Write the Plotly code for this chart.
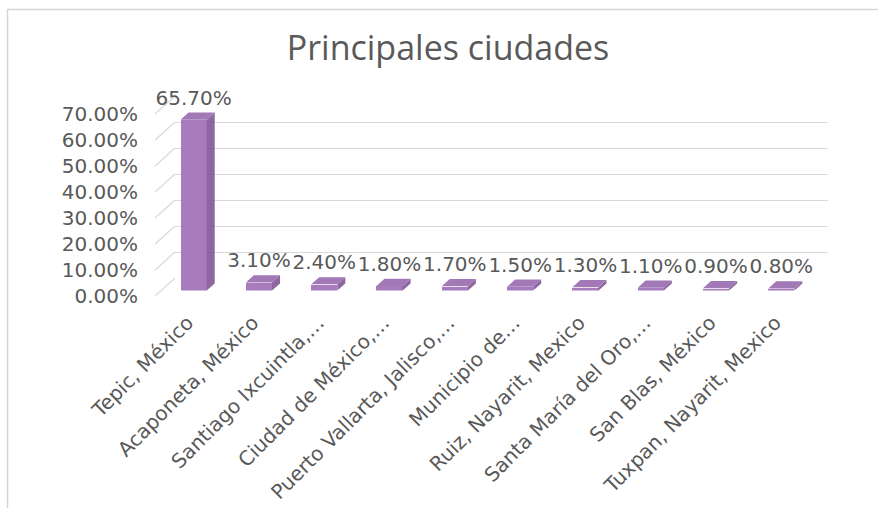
import plotly.graph_objects as go

# Share of visits by city
cities = [
    "Tepic, México",
    "Acaponeta, México",
    "Santiago Ixcuintla,…",
    "Ciudad de México,…",
    "Puerto Vallarta, Jalisco,…",
    "Municipio de…",
    "Ruiz, Nayarit, Mexico",
    "Santa María del Oro,…",
    "San Blas, México",
    "Tuxpan, Nayarit, Mexico",
]
shares = [0.657, 0.031, 0.024, 0.018, 0.017, 0.015, 0.013, 0.011, 0.009, 0.008]
tick_vals = [0.0, 0.1, 0.2, 0.3, 0.4, 0.5, 0.6, 0.7]

# ---- 3-D box geometry (pixels) ----
W, H = 878, 508
LEFT, RIGHT = 155, 808        # front edge of the floor
BASE, TOP = 296, 114          # front plane: 0 % and 70 % levels
DEPTH_X, DEPTH_Y = 20, 18     # shift from the front plane to the back wall
BAR_NEAR, BAR_FAR = 0.3, 0.7  # depth span occupied by the columns
LABEL_GAP = 3                 # extra lift of the value labels (px)

Y_MAX = 0.7
N = len(cities)
X_RANGE = [-0.5, N - 0.5]
px_per_cat = (RIGHT - LEFT) / N
px_per_unit = (BASE - TOP) / Y_MAX

GRID = "#d9d9d9"
TEXT = "#595959"
FRONT = "rgba(160,112,182,0.92)"
SIDE = "rgba(132,90,154,0.92)"
TOPC = "rgba(154,108,176,0.92)"


def xdom(f):
    s = f * DEPTH_X
    return [(LEFT + s) / W, (RIGHT + s) / W]


def ydom(f):
    s = f * DEPTH_Y
    return [1 - (BASE - s) / H, 1 - (TOP - s) / H]


fig = go.Figure()

# empty traces so the front plane and back wall subplots are rendered
for xa, ya in (("x", "y"), ("x2", "y2")):
    fig.add_trace(go.Scatter(
        x=[None], y=[None], mode="markers", xaxis=xa, yaxis=ya,
        hoverinfo="skip", showlegend=False,
    ))

# left wall: diagonal lines joining front and back levels (box axes x3/y3)
box_dx = DEPTH_X / px_per_cat
box_dy = DEPTH_Y / px_per_unit
diag_x, diag_y = [], []
for v in tick_vals:
    diag_x += [-0.5, -0.5 + box_dx, None]
    diag_y += [v, v + box_dy, None]
fig.add_trace(go.Scatter(
    x=diag_x, y=diag_y, mode="lines", line=dict(color=GRID, width=1.3),
    xaxis="x3", yaxis="y3", hoverinfo="skip", showlegend=False,
))

# columns: front faces as bars, side and top faces as filled polygons
hw = 0.2
ddx = (BAR_FAR - BAR_NEAR) * DEPTH_X / px_per_cat
ddy = (BAR_FAR - BAR_NEAR) * DEPTH_Y / px_per_unit
xs = list(range(N))

fig.add_trace(go.Bar(
    x=xs, y=shares, width=2 * hw, marker=dict(color=FRONT, line=dict(width=0)),
    xaxis="x4", yaxis="y4", hoverinfo="skip", showlegend=False,
))

side_x, side_y, top_x, top_y = [], [], [], []
for i, v in zip(xs, shares):
    r = i + hw
    side_x += [r, r + ddx, r + ddx, r, r, None]
    side_y += [0, ddy, v + ddy, v, 0, None]
    top_x += [i - hw, r, r + ddx, i - hw + ddx, i - hw, None]
    top_y += [v, v, v + ddy, v + ddy, v, None]

fig.add_trace(go.Scatter(
    x=side_x, y=side_y, mode="lines", fill="toself", fillcolor=SIDE,
    line=dict(width=0, color=SIDE), xaxis="x4", yaxis="y4",
    hoverinfo="skip", showlegend=False,
))
fig.add_trace(go.Scatter(
    x=top_x, y=top_y, mode="lines", fill="toself", fillcolor=TOPC,
    line=dict(width=0, color=TOPC), xaxis="x4", yaxis="y4",
    hoverinfo="skip", showlegend=False,
))

# value labels above each column, placed in the box coordinates
near_dx = BAR_NEAR * box_dx
near_dy = BAR_NEAR * box_dy
lift = near_dy + ddy + LABEL_GAP / px_per_unit
fig.add_trace(go.Scatter(
    x=[i + near_dx for i in xs], y=[v + lift for v in shares], mode="text",
    text=[f"{v:.2%}" for v in shares], textposition="top center",
    textfont=dict(family="DejaVu Sans", size=20, color=TEXT),
    cliponaxis=False, xaxis="x3", yaxis="y3",
    hoverinfo="skip", showlegend=False,
))

hidden = dict(visible=False, fixedrange=True)

fig.update_layout(
    width=W, height=H,
    margin=dict(l=0, r=0, t=0, b=0, autoexpand=False),
    paper_bgcolor="white", plot_bgcolor="rgba(0,0,0,0)",
    font=dict(family="DejaVu Sans", color=TEXT),
    title=dict(
        text="Principales ciudades", x=448 / W, y=1 - 48 / H,
        xanchor="center", yanchor="middle", xref="paper", yref="paper",
        font=dict(family="Open Sans", size=34, color=TEXT),
    ),
    # front plane: value tick labels and category labels
    xaxis=dict(
        domain=xdom(0), range=X_RANGE, anchor="y", fixedrange=True,
        tickvals=xs, ticktext=cities, tickangle=-45,
        showgrid=False, zeroline=False, showline=False, ticks="",
        ticklabelstandoff=10, automargin=False,
        tickfont=dict(family="DejaVu Sans", size=20, color=TEXT),
    ),
    yaxis=dict(
        domain=ydom(0), range=[0, Y_MAX], anchor="x",
        tickvals=tick_vals, tickformat=".2%", showgrid=False,
        zeroline=False, showline=False, ticks="",
        ticklabelstandoff=16, automargin=False, fixedrange=True,
        tickfont=dict(family="DejaVu Sans", size=20, color=TEXT),
    ),
    # back wall: horizontal gridlines
    xaxis2=dict(
        domain=xdom(1), range=X_RANGE, anchor="y2", fixedrange=True,
        showgrid=False, zeroline=False, showline=False,
        showticklabels=False, ticks="",
    ),
    yaxis2=dict(
        domain=ydom(1), range=[0, Y_MAX], anchor="x2",
        tickvals=tick_vals, showgrid=True, gridcolor=GRID, gridwidth=1.3,
        zeroline=False, showline=False, showticklabels=False, ticks="",
        fixedrange=True,
    ),
    # whole box: left wall diagonals and value labels
    xaxis3=dict(
        domain=[LEFT / W, (RIGHT + DEPTH_X) / W],
        range=[-0.5, N - 0.5 + box_dx], anchor="y3", **hidden,
    ),
    yaxis3=dict(
        domain=[1 - BASE / H, 1 - (TOP - DEPTH_Y) / H],
        range=[0, Y_MAX + box_dy], anchor="x3", **hidden,
    ),
    # column plane
    xaxis4=dict(domain=xdom(BAR_NEAR), range=X_RANGE, anchor="y4", **hidden),
    yaxis4=dict(domain=ydom(BAR_NEAR), range=[0, Y_MAX], anchor="x4", **hidden),
    shapes=[dict(
        type="rect", xref="paper", yref="paper",
        x0=7.5 / W, x1=1.05, y0=-0.05, y1=1 - 9.5 / H,
        line=dict(color="#d6d6d6", width=1.5), fillcolor="rgba(0,0,0,0)",
        layer="below",
    )],
    bargap=0,
)

fig.write_html("out.html")
